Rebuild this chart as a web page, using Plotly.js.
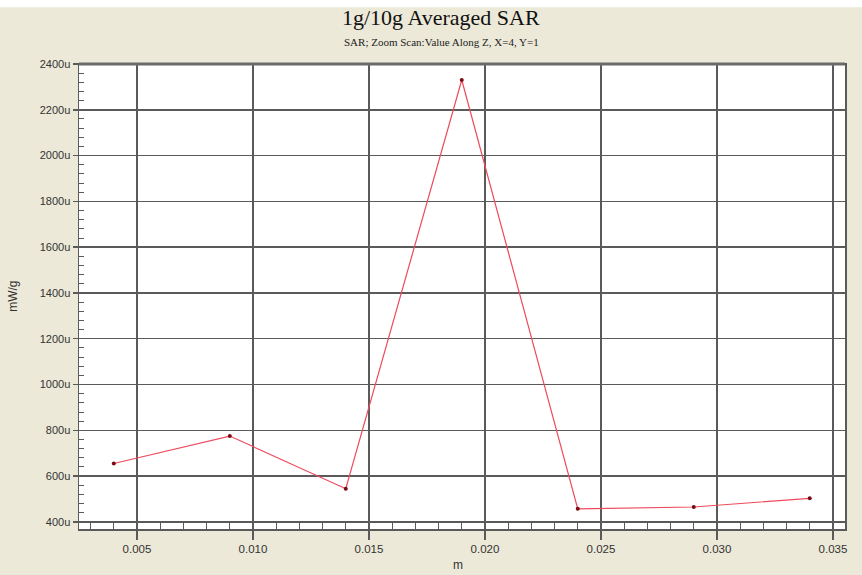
<!DOCTYPE html>
<html>
<head>
<meta charset="utf-8">
<script src="https://cdn.plot.ly/plotly-3.0.1.min.js"></script>
<style>html,body{margin:0;padding:0;background:#ECE9D8;}#chart{width:862px;height:575px;}</style>
</head>
<body>
<div id="chart"></div>
<script>
// Data
const positionsM = [0.004, 0.009, 0.014, 0.019, 0.024, 0.029, 0.034];
const sarValuesU = [655, 775, 545, 2330, 457, 465, 503];
const xTickVals = [0.005, 0.010, 0.015, 0.020, 0.025, 0.030, 0.035];
const xTickText = ['0.005', '0.010', '0.015', '0.020', '0.025', '0.030', '0.035'];
const yTickVals = [400, 600, 800, 1000, 1200, 1400, 1600, 1800, 2000, 2200, 2400];
const yTickText = ['400u', '600u', '800u', '1000u', '1200u', '1400u', '1600u', '1800u', '2000u', '2200u', '2400u'];
const chartTitle = '1g/10g Averaged SAR';
const chartSubtitle = 'SAR; Zoom Scan:Value Along Z, X=4, Y=1';
const xAxisLabel = 'm';
const yAxisLabel = 'mW/g';

const trace = {
  x: positionsM,
  y: sarValuesU,
  type: 'scatter',
  mode: 'lines+markers',
  line: {color: '#EE4A5C', width: 1.2},
  marker: {color: '#7A0A14', size: 4},
  hoverinfo: 'skip'
};

const gridC = '#5a5a5a';
const layout = {
  width: 862, height: 575,
  paper_bgcolor: '#ECE9D8',
  plot_bgcolor: '#FFFFFF',
  margin: {l: 79, r: 17, t: 64, b: 46},
  showlegend: false,
  font: {family: 'Arial, "Liberation Sans", sans-serif', color: '#3a3a3a', size: 11},
  xaxis: {
    range: [0.0025, 0.03552],
    tickmode: 'array', tickvals: xTickVals, ticktext: xTickText,
    showgrid: true, gridcolor: gridC, gridwidth: 1.5,
    zeroline: false,
    showline: true, linecolor: gridC, linewidth: 1.5, mirror: true,
    ticks: 'outside', ticklen: 9, tickcolor: gridC, tickwidth: 1.5,
    tickfont: {size: 11.5, color: '#333333'},
    minor: {dtick: 0.001, tick0: 0, ticks: 'inside', ticklen: 7, tickcolor: gridC, tickwidth: 1, showgrid: false}
  },
  yaxis: {
    range: [369, 2400],
    tickmode: 'array', tickvals: yTickVals, ticktext: yTickText,
    showgrid: true, gridcolor: gridC, gridwidth: 1.5,
    zeroline: false,
    showline: true, linecolor: gridC, linewidth: 1.5, mirror: true,
    ticks: 'outside', ticklen: 5, tickcolor: gridC, tickwidth: 1.5,
    tickfont: {size: 11, color: '#333333'},
    minor: {dtick: 40, tick0: 0, ticks: 'inside', ticklen: 5, tickcolor: gridC, tickwidth: 1, showgrid: false}
  },
  shapes: [
    {type: 'rect', xref: 'paper', yref: 'paper', x0: -0.2, x1: 1.05, y0: 1.122, y1: 1.2, fillcolor: '#FFFFFF', line: {width: 0}, layer: 'above'},
    {type: 'line', xref: 'paper', yref: 'paper', x0: 0, x1: 1, y0: 1, y1: 1, line: {color: '#6a6a6a', width: 3}}
  ],
  annotations: [
    {text: chartTitle, xref: 'paper', yref: 'paper', x: 0.4726, y: 1.099, xanchor: 'center', yanchor: 'middle', showarrow: false,
     font: {family: '"Liberation Serif", "Times New Roman", serif', size: 22, color: '#111111'}},
    {text: chartSubtitle, xref: 'paper', yref: 'paper', x: 0.4726, y: 1.047, xanchor: 'center', yanchor: 'middle', showarrow: false,
     font: {family: '"Liberation Serif", "Times New Roman", serif', size: 11, color: '#222222'}},
    {text: yAxisLabel, xref: 'paper', yref: 'paper', x: -0.087, y: 0.5, xanchor: 'center', yanchor: 'middle', textangle: -90, showarrow: false,
     font: {size: 12, color: '#333333'}},
    {text: xAxisLabel, xref: 'paper', yref: 'paper', x: 0.495, y: -0.078, xanchor: 'center', yanchor: 'middle', showarrow: false,
     font: {size: 12, color: '#333333'}}
  ]
};

Plotly.newPlot('chart', [trace], layout, {staticPlot: true, displayModeBar: false});
</script>
</body>
</html>
